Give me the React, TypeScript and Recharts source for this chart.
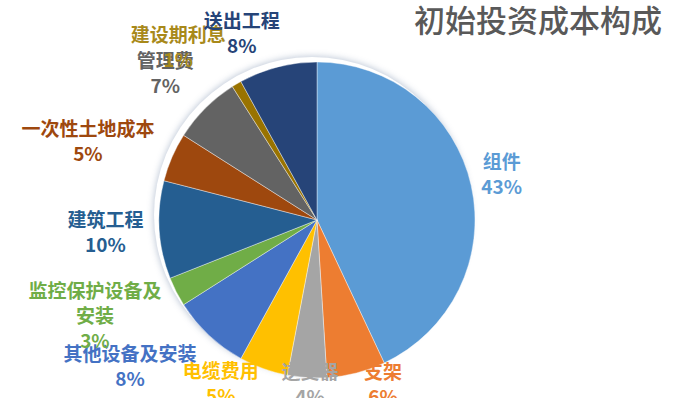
import { PieChart, Pie, Cell } from 'recharts'

const categories = ['组件', '支架', '逆变器', '电缆费用', '其他设备及安装', '监控保护设备及安装', '建筑工程', '一次性土地成本', '管理费', '建设期利息', '送出工程']
const shares = [43, 6, 4, 5, 8, 3, 10, 5, 7, 1, 8]

const COLORS = ['#5b9bd5', '#ed7d31', '#a5a5a5', '#ffc000', '#4472c4', '#70ad47', '#255e91', '#9e480e', '#636363', '#997300', '#264478']
const TEXT_COLORS = ['#5b9bd5', '#ed7d31', '#a5a5a5', '#ffc000', '#4472c4', '#70ad47', '#255e91', '#9e480e', '#636363', '#a8891a', '#264478']

// label placement: [angle nudge (deg, clockwise), distance from centre]
const LABEL_LAYOUT: [number, number][] = [
  [-1, 190], [-7.4, 178], [-1.2, 165], [10.6, 190], [8.6, 238], [3.6, 242],
  [0, 212], [-4.6, 242], [-1, 211], [-8.3, 221], [-7.6, 201],
]
// names that wrap
const LINE_BREAKS: Record<string, string[]> = {
  '监控保护设备及安装': ['监控保护设备及', '安装'],
}

const data = categories.map((name, i) => ({ name, value: shares[i] }))

const CX = 312
const CY = 215
const R = 158
const RAD = Math.PI / 180

function renderLabel(props: any) {
  const { cx, cy, midAngle, index, name, percent } = props
  const [nudge, dist] = LABEL_LAYOUT[index]
  const a = (midAngle - nudge) * RAD
  const x = cx + dist * Math.cos(a)
  const y = cy - dist * Math.sin(a)
  const lines = [...(LINE_BREAKS[name] || [name]), `${Math.round(percent * 100)}%`]
  const lh = 25
  return (
    <text
      x={x}
      y={y}
      textAnchor="middle"
      fill={TEXT_COLORS[index]}
      fontSize={19}
      fontWeight="bold"
      fontFamily="'Noto Sans CJK SC', sans-serif"
    >
      {lines.map((l, i) => (
        <tspan key={i} x={x} y={y + (i - (lines.length - 1) / 2) * lh} dy="0.35em">
          {l}
        </tspan>
      ))}
    </text>
  )
}

export default function App() {
  return (
    <div style={{ position: 'absolute', left: 0, top: 0, width: 689, height: 398, background: '#fff', overflow: 'hidden' }}>
      <div
        style={{
          position: 'absolute',
          left: 414,
          top: 0,
          fontSize: 31,
          fontWeight: 500,
          color: '#595959',
          fontFamily: "'Noto Sans CJK SC', sans-serif",
          lineHeight: '38px',
          whiteSpace: 'nowrap',
        }}
      >
        初始投资成本构成
      </div>
      {/* soft glow behind the pie */}
      <div
        style={{
          position: 'absolute',
          left: CX - R,
          top: CY - R,
          width: R * 2,
          height: R * 2,
          borderRadius: '50%',
          boxShadow: '0 0 6px 1px rgba(120,140,170,0.45)',
        }}
      />
      <PieChart width={689} height={398} style={{ position: 'absolute', left: 0, top: 0 }}>
        <Pie
          data={data}
          dataKey="value"
          nameKey="name"
          cx={CX}
          cy={CY}
          outerRadius={R}
          startAngle={90}
          endAngle={-270}
          stroke="#ffffff"
          strokeWidth={0.4}
          labelLine={false}
          label={renderLabel}
          isAnimationActive={false}
        >
          {data.map((entry, index) => (
            <Cell key={`cell-${index}`} fill={COLORS[index]} />
          ))}
        </Pie>
      </PieChart>
    </div>
  )
}
